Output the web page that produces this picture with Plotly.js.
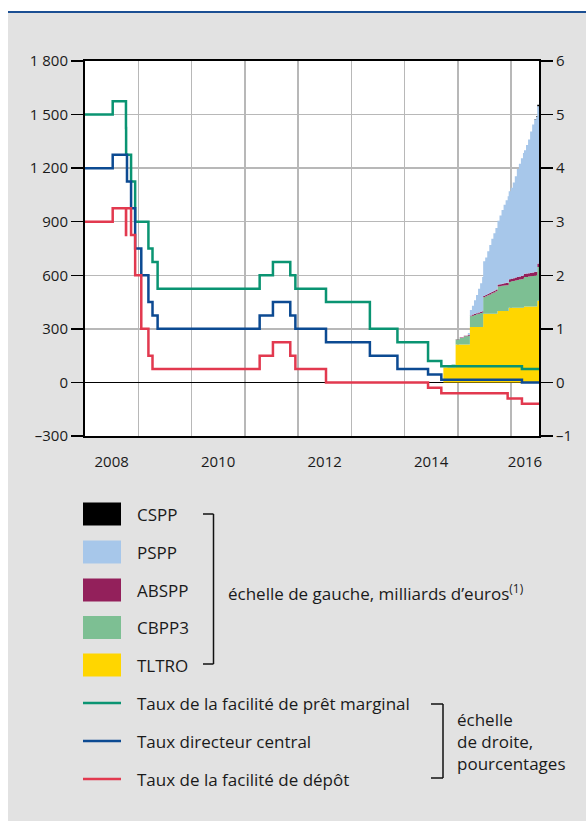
<!DOCTYPE html>
<html>
<head>
<meta charset="utf-8">
<script src="https://cdn.plot.ly/plotly-3.0.1.min.js"></script>
<style>
html,body{margin:0;padding:0;background:#fff;}
#chart{width:586px;height:821px;}
</style>
</head>
<body>
<div id="chart"></div>
<script>
// ---------- DATA ----------
// Policy rates (right scale, %), step changes
const rateDates = ['2008-01-01','2008-07-09','2008-10-08','2008-10-09','2008-10-15','2008-11-12','2008-12-10','2009-01-21','2009-03-11','2009-04-08','2009-05-13','2011-04-13','2011-07-13','2011-11-09','2011-12-14','2012-07-11','2013-05-08','2013-11-13','2014-06-11','2014-09-10','2015-12-09','2016-03-16','2016-07-12'];
const marginalLending = [5.00,5.25,4.75,4.25,4.25,3.75,3.00,3.00,2.50,2.25,1.75,2.00,2.25,2.00,1.75,1.50,1.00,0.75,0.40,0.30,0.30,0.25,0.25];
const mainRefi        = [4.00,4.25,4.25,4.25,3.75,3.25,2.50,2.00,1.50,1.25,1.00,1.25,1.50,1.25,1.00,0.75,0.50,0.25,0.15,0.05,0.05,0.00,0.00];
const depositFacility = [3.00,3.25,2.75,3.25,3.25,2.75,2.00,1.00,0.50,0.25,0.25,0.50,0.75,0.50,0.25,0.00,0.00,0.00,-0.10,-0.20,-0.30,-0.40,-0.40];

// Asset purchases / TLTRO (left scale, bn EUR)
const stackDates = ['2014-09-24','2014-10-22','2014-11-19','2014-12-17','2015-01-14','2015-02-11','2015-03-11','2015-03-25','2015-04-08','2015-04-22','2015-05-06','2015-05-20','2015-06-03','2015-06-17','2015-06-24','2015-07-08','2015-07-22','2015-08-05','2015-08-19','2015-09-02','2015-09-16','2015-09-30','2015-10-14','2015-10-28','2015-11-11','2015-11-25','2015-12-09','2015-12-16','2015-12-30','2016-01-13','2016-01-27','2016-02-10','2016-02-24','2016-03-09','2016-03-23','2016-03-30','2016-04-13','2016-04-27','2016-05-11','2016-05-25','2016-06-08','2016-06-22','2016-06-29','2016-07-12'];
const tltro = [83,83,83,212,212,212,212,310,310,310,310,310,310,310,384,384,384,384,384,384,384,400,400,400,400,400,400,418,418,418,418,418,418,418,418,425,425,425,425,425,425,425,457,457];
const cbpp3 = [0,5,18,28,37,46,50,60,64,68,72,75,79,82,93,98,104,109,115,120,126,137,138,141,143,144,144,145,148,150,153,155,158,160,163,165,166,168,170,171,173,175,189,190];
const abspp = [0,0,0,2,3,4,5,5,6,6,6,7,7,7,7,8,8,9,9,10,10,11,12,12,13,14,14,15,15,16,16,17,17,18,18,18,19,19,19,20,20,20,20,21];
const pspp  = [0,0,0,0,0,0,10,30,50,76,102,133,159,191,195,210,239,268,297,321,345,357,385,412,439,462,485,492,509,536,568,605,632,659,686,692,720,748,791,829,856,866,881,889];
const cspp  = [0,0,0,0,0,0,0,0,0,0,0,0,0,0,0,0,0,0,0,0,0,0,0,0,0,0,0,0,0,0,0,0,0,0,0,0,0,0,0,0,1,4,8,10];

// Axis ticks
const leftTickVals = [-300,0,300,600,900,1200,1500,1800];
const leftTickText = ['\u2013300','0','300','600','900','1 200','1 500','1 800'];
const rightTickVals = [-1,0,1,2,3,4,5,6];
const rightTickText = ['\u20131','0','1','2','3','4','5','6'];
const xLabelPos = ['2008-07-02','2010-07-02','2012-07-02','2014-07-02','2016-04-06'];
const xLabelText = ['2008','2010','2012','2014','2016'];
const yearGrid = ['2009-01-01','2010-01-01','2011-01-01','2012-01-01','2013-01-01','2014-01-01','2015-01-01','2016-01-01'];

// Legend labels
const areaNames = ['CSPP','PSPP','ABSPP','CBPP3','TLTRO'];
const lineNames = ['Taux de la facilit\u00e9 de pr\u00eat marginal','Taux directeur central','Taux de la facilit\u00e9 de d\u00e9p\u00f4t'];
const leftScaleNote = '\u00e9chelle de gauche, milliards d\u2019euros<sup>(1)</sup>';
const rightScaleNote = '\u00e9chelle<br>de droite,<br>pourcentages';

// ---------- STYLE ----------
const C = {
  cspp:'#000000', pspp:'#a7c7ea', abspp:'#93205b', cbpp3:'#7dbf93', tltro:'#ffd600',
  green:'#0a9472', blue:'#0c4a92', red:'#e2394f',
  grid:'#b8b8b8', text:'#1a1a1a', bg:'#e2e2e2', topline:'#1b4f93'
};
const areaColors = [C.cspp, C.pspp, C.abspp, C.cbpp3, C.tltro];
const lineColors = [C.green, C.blue, C.red];

const W=586, H=821, L=85, R=47, T=61, B=385;
const PW=W-L-R, PH=H-T-B;
const px = x => (x-L)/PW;
const py = y => (H-B-y)/PH;

function area(y, name, color){
  return {x: stackDates, y: y, name: name, type:'scatter', mode:'lines',
    stackgroup:'assets', line:{width:0, shape:'hv', color:color}, fillcolor:color,
    hoverinfo:'skip', showlegend:false};
}
function rate(y, name, color){
  return {x: rateDates, y: y, name: name, type:'scatter', mode:'lines', yaxis:'y2',
    line:{width:2.5, shape:'hv', color:color}, hoverinfo:'skip', showlegend:false};
}

const traces = [
  area(tltro,'TLTRO',C.tltro),
  area(cbpp3,'CBPP3',C.cbpp3),
  area(abspp,'ABSPP',C.abspp),
  area(pspp,'PSPP',C.pspp),
  area(cspp,'CSPP',C.cspp),
  rate(marginalLending, lineNames[0], C.green),
  rate(mainRefi, lineNames[1], C.blue),
  rate(depositFacility, lineNames[2], C.red)
];

// ---------- DECORATION / LEGEND ----------
const shapes = [];
const annotations = [];
shapes.push({type:'rect', xref:'paper', yref:'paper', x0:px(0), x1:px(W), y0:py(11), y1:py(0), fillcolor:'#fff', line:{width:0}, layer:'below'});
shapes.push({type:'rect', xref:'paper', yref:'paper', x0:px(0), x1:px(8), y0:py(H), y1:py(0), fillcolor:'#fff', line:{width:0}, layer:'below'});
shapes.push({type:'line', xref:'paper', yref:'paper', x0:px(8), x1:px(W), y0:py(12), y1:py(12), line:{color:C.topline, width:2.2}});

const fs = 17;
const areaRowY = [514, 552, 590, 627.5, 665];
areaNames.forEach((n,i)=>{
  const yc = areaRowY[i];
  shapes.push({type:'rect', xref:'paper', yref:'paper', x0:px(83), x1:px(121), y0:py(yc+11.5), y1:py(yc-11.5), fillcolor:areaColors[i], line:{width:0}});
  annotations.push({xref:'paper', yref:'paper', x:px(135), y:py(yc), text:n, showarrow:false, xanchor:'left', yanchor:'middle', font:{size:fs, color:C.text}});
});
const bk = (xa,xb,ya,yb)=>{
  shapes.push({type:'line', xref:'paper', yref:'paper', x0:px(xa), x1:px(xb), y0:py(ya), y1:py(ya), line:{color:'#111', width:1.5}});
  shapes.push({type:'line', xref:'paper', yref:'paper', x0:px(xb), x1:px(xb), y0:py(ya), y1:py(yb), line:{color:'#111', width:1.5}});
  shapes.push({type:'line', xref:'paper', yref:'paper', x0:px(xa), x1:px(xb), y0:py(yb), y1:py(yb), line:{color:'#111', width:1.5}});
};
bk(203, 213.5, 514, 664);
annotations.push({xref:'paper', yref:'paper', x:px(226), y:py(592), text:leftScaleNote, showarrow:false, xanchor:'left', yanchor:'middle', font:{size:fs, color:C.text}});

const lineRowY = [703, 741, 779];
lineNames.forEach((n,i)=>{
  const yc = lineRowY[i];
  shapes.push({type:'line', xref:'paper', yref:'paper', x0:px(83), x1:px(121), y0:py(yc), y1:py(yc), line:{color:lineColors[i], width:2.5}});
  annotations.push({xref:'paper', yref:'paper', x:px(135), y:py(yc), text:n, showarrow:false, xanchor:'left', yanchor:'middle', font:{size:fs, color:C.text}});
});
bk(431, 443, 704, 778);
annotations.push({xref:'paper', yref:'paper', x:px(455), y:py(742), text:rightScaleNote, showarrow:false, xanchor:'left', yanchor:'middle', align:'left', font:{size:fs, color:C.text}});

const layout = {
  width:W, height:H,
  margin:{l:L, r:R, t:T, b:B, pad:0},
  paper_bgcolor:C.bg, plot_bgcolor:'#ffffff',
  font:{family:'"Open Sans", "Noto Sans", sans-serif', color:C.text, size:15},
  showlegend:false,
  xaxis:{
    type:'date', range:['2008-01-01','2016-07-11'],
    tickmode:'array', tickvals:xLabelPos, ticktext:xLabelText,
    ticks:'outside', ticklen:11, tickcolor:'rgba(0,0,0,0)',
    showgrid:false, zeroline:false,
    showline:true, mirror:true, linecolor:'#000', linewidth:1.6,
    tickfont:{size:15, color:C.text},
    minor:{tickmode:'array', tickvals:yearGrid, showgrid:true, gridcolor:C.grid, gridwidth:1.5, ticks:''},
    fixedrange:true
  },
  yaxis:{
    range:[-300,1800], tickmode:'array', tickvals:leftTickVals, ticktext:leftTickText,
    ticks:'outside', ticklen:12, tickwidth:1.5, tickcolor:'#000',
    showgrid:true, gridcolor:C.grid, gridwidth:1.5,
    zeroline:true, zerolinecolor:'#000', zerolinewidth:1.6,
    showline:true, linecolor:'#000', linewidth:2,
    tickfont:{size:15, color:C.text}, fixedrange:true
  },
  yaxis2:{
    overlaying:'y', side:'right', range:[-1,6],
    tickmode:'array', tickvals:rightTickVals, ticktext:rightTickText,
    ticks:'outside', ticklen:12, tickwidth:1.5, tickcolor:'#000',
    showgrid:false, zeroline:false,
    showline:true, linecolor:'#000', linewidth:2,
    tickfont:{size:15, color:C.text}, fixedrange:true
  },
  shapes:shapes,
  annotations:annotations
};

Plotly.newPlot('chart', traces, layout, {displayModeBar:false, staticPlot:true});
</script>
</body>
</html>
